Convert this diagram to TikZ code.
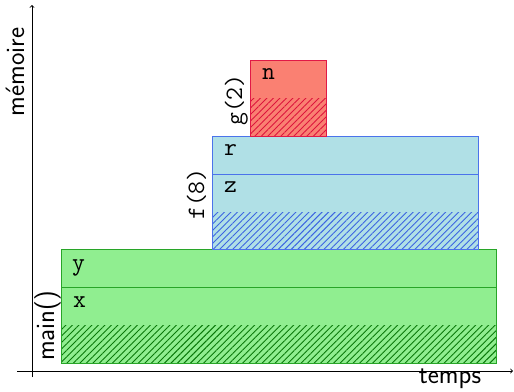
\documentclass[tikz,border=0pt]{standalone}
\usetikzlibrary{patterns.meta}
\definecolor{gfill}{RGB}{144,238,144}
\definecolor{gline}{RGB}{40,165,40}
\definecolor{ghatch}{RGB}{10,120,10}
\definecolor{bfill}{RGB}{176,224,230}
\definecolor{bline}{RGB}{75,115,235}
\definecolor{bhatch}{RGB}{60,100,225}
\definecolor{rfill}{RGB}{250,128,114}
\definecolor{rline}{RGB}{225,25,70}
\definecolor{rhatch}{RGB}{220,20,60}
\tikzset{
  var/.style={font=\ttfamily\fontsize{25}{30}\selectfont, anchor=base west, inner sep=0pt},
  fname/.style={font=\ttfamily\fontsize{25}{30}\selectfont, anchor=base, rotate=90, inner sep=0pt},
  axlabel/.style={font=\sffamily\fontsize{26.5}{31}\selectfont, anchor=base, inner sep=0pt},
  hatch/.style={pattern={Lines[angle=45,distance=4.6pt,line width=0.9pt]}},
  frame/.style={line width=1pt},
  axis/.style={line width=0.9pt, ->}
}
\begin{document}
\begin{tikzpicture}[x=1pt,y=-1pt]
\useasboundingbox (0,0) rectangle (514,391);
% main() frame
\fill[gfill] (61,249) rectangle (496,363);
\fill[hatch, pattern color=ghatch] (61,325) rectangle (496,363);
\draw[frame, gline] (61,249) rectangle (496,363);
\draw[frame, gline] (61,287) -- (496,287);
% f(8) frame
\fill[bfill] (212,136) rectangle (478,249);
\fill[hatch, pattern color=bhatch] (212,212) rectangle (478,249);
\draw[frame, bline] (212,136) rectangle (478,249);
\draw[frame, bline] (212,174) -- (478,174);
% g(2) frame
\fill[rfill] (250,60) rectangle (326,136);
\fill[hatch, pattern color=rhatch] (250,98) rectangle (326,136);
\draw[frame, rline] (250,60) rectangle (326,136);
% variables
\node[var] (vy) at (72,270) {y};
\node[var] (vx) at (73,307) {x};
\node[var] (vz) at (224,192) {z};
\node[var] (vr) at (224,155) {r};
\node[var] (vn) at (262,79) {n};
% function labels
\node[axlabel, rotate=90] (lmain) at (54,326) {main()};
\node[fname] (lf) at (204,194) {f(8)};
\node[fname] (lg) at (242,100) {g(2)};
% axes
\coordinate (ybot) at (32,377);
\coordinate (ytop) at (32,5);
\coordinate (xleft) at (17,371);
\coordinate (xright) at (513,371);
\draw[axis] (ybot) -- (ytop);
\draw[axis] (xleft) -- (xright);
\node[axlabel] (ltemps) at (450,383) {temps};
\node[axlabel, rotate=90] (lmem) at (24,72) {mémoire};
\end{tikzpicture}
\end{document}
